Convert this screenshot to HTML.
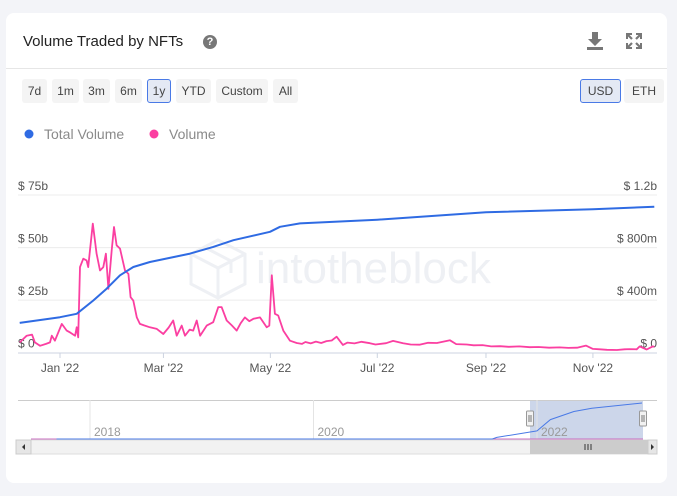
<!DOCTYPE html>
<html><head><meta charset="utf-8">
<style>
html,body{margin:0;padding:0;background:#f3f4f8;width:677px;height:496px;overflow:hidden;font-family:"Liberation Sans",sans-serif;}
#card{position:absolute;left:6px;top:13px;width:661px;height:470px;background:#fff;border-radius:8px;}
.btn{position:absolute;top:79px;height:24px;line-height:24px;background:#f4f4f4;border-radius:3px;font-size:12px;color:#444;text-align:center;box-sizing:border-box;}
.sel{background:#e4e9f4;border:1.5px solid #4a7ae6;line-height:22px;}
</style></head><body>
<div id="card"></div>
<div style="position:absolute;left:23px;top:33px;font-size:15px;color:#222;">Volume Traded by NFTs</div>
<div style="position:absolute;left:203px;top:35px;width:14px;height:14px;border-radius:50%;background:#777;color:#fff;font-size:11px;font-weight:bold;text-align:center;line-height:14px;">?</div>
<div style="position:absolute;left:587px;top:32px;width:16px;height:18px;">
<svg width="16" height="18"><path d="M5 0h6v7h4l-7 7-7-7h4z" fill="#777"/><rect x="0" y="15" width="16" height="3" fill="#777"/></svg></div>
<div style="position:absolute;left:626px;top:33px;width:16px;height:16px;">
<svg width="16" height="16" stroke="#777" stroke-width="2.2" fill="none"><path d="M1 1l5 5M15 1l-5 5M1 15l5-5M15 15l-5-5"/><path d="M1 6V1h5M10 1h5v5M1 10v5h5M10 15h5v-5" stroke-width="2"/></svg></div>
<div style="position:absolute;left:6px;top:68px;width:661px;height:1px;background:#e6e6e6;"></div>
<div class="btn" style="left:22px;width:25px;">7d</div>
<div class="btn" style="left:52px;width:27px;">1m</div>
<div class="btn" style="left:83px;width:27px;">3m</div>
<div class="btn" style="left:115px;width:27px;">6m</div>
<div class="btn sel" style="left:147px;width:24px;">1y</div>
<div class="btn" style="left:176px;width:35px;">YTD</div>
<div class="btn" style="left:216px;width:52px;">Custom</div>
<div class="btn" style="left:273px;width:25px;">All</div>
<div class="btn sel" style="left:580px;width:41px;">USD</div>
<div class="btn" style="left:624px;width:40px;">ETH</div>
<svg id="chart" width="677" height="496" style="position:absolute;left:0;top:0;"></svg>
<script>
const volDays=[-23,-19,-16,-14.3,-11.4,-8,-5.7,-4.7,-2.9,1,3.8,6,8.6,9.5,10.4,11.4,13.3,15.2,16.1,18.7,20.9,22.8,24.7,26.2,27.6,29.5,30.8,32.3,34.2,37.1,39,40.3,41.8,43.8,45.6,48,51.3,55.2,58.9,62,64.6,66.6,69.4,71.3,74,76,78,79.9,83.7,87.4,90.3,92.2,95.1,98,100.8,103,105.5,108,110.3,114.1,117.9,119.4,120.8,122.6,124.5,127.4,131.2,135,138,140,143,146,149,152,155,157.8,161.4,164,168,172,176.8,180,186,190,195.7,200,205,210,215,222.5,226,232,236,241,246,251,256,262,268,273,279,285,290,295,300,304,308,312,317.7,322,325,329,330.7,334.7,338.1,339];
const volValues=[4.9,8.1,8.6,4.9,3.3,4.2,4.9,8.1,5.7,13.7,10.5,9.5,8.1,12.1,7.3,40.7,44.7,43.9,40.7,61.4,47.1,39.1,40.7,47.1,30.4,48.7,59.8,51.1,49.5,39.1,37.5,26.4,24.8,16.8,13.7,13,12.1,11.3,8.9,12,15.3,8.1,12.9,8.1,11,10.5,15.3,8.1,12.9,14.5,21.7,21.7,15.3,13,10.5,14,16.8,15,16.1,16.8,12.1,12.9,36.8,18.5,17.7,10.5,5.7,4.6,4.2,5.1,4.4,5.3,4.6,5.5,5.8,7.6,3.7,4.8,4.4,5.2,4.5,3.9,4.5,5.6,4.5,3.9,3.8,4.7,4.6,5.9,4.1,3.9,3.5,3.6,3.0,3.1,2.8,3.0,2.6,2.7,2.4,2.5,2.3,2.4,3.4,1.8,1.6,1.4,1.3,1.6,1.7,1.6,3,1.5,3,2.8];
const totDays=[-23,0,9.5,19,26.6,34.2,41.8,51.3,74.2,87.4,98.9,119.8,125.5,136.9,159.7,181,243,304,339];
const totValues=[0.227,0.27,0.296,0.397,0.487,0.589,0.652,0.69,0.754,0.805,0.856,0.92,0.958,0.984,0.998,1.012,1.068,1.091,1.111];
const xTickLabels=["Jan '22","Mar '22","May '22","Jul '22","Sep '22","Nov '22"];
const xTickDays=[0,59,120,181,243,304];
const leftTicks=[0,25,50,75];
const leftTickLabels=["$ 0","$ 25b","$ 50b","$ 75b"];
const rightTicks=[0,0.4,0.8,1.2];
const rightTickLabels=["$ 0","$ 400m","$ 800m","$ 1.2b"];
const navYears=[2017.7,2021.6,2021.64,2022.0,2022.12,2022.33,2022.49,2022.94];
const navTotals=[0,0,0.05,0.25,0.6,0.85,0.95,1.111];
const navTickYears=[2018,2020,2022];

const NS="http://www.w3.org/2000/svg";
const svg=document.getElementById('chart');
function el(t,a,p){const e=document.createElementNS(NS,t);for(const k in a)e.setAttribute(k,a[k]);(p||svg).appendChild(e);return e;}
const X=d=>60+d*1.753;
const YL=v=>352.7-v/75*157.7;
const YR=v=>352.7-v/1.2*157.7;
const NX=y=>90+(y-2018)*111.75;
const NY=v=>439-v/1.111*36;

let g=el('g',{});
el('circle',{cx:29,cy:134,r:4.5,fill:'#2f6be3'},g);
let t=el('text',{x:44,y:139,'font-size':14,fill:'#8a8a8a'},g);t.textContent='Total Volume';
g=el('g',{});
el('circle',{cx:154,cy:134,r:4.5,fill:'#fb3fa1'},g);
t=el('text',{x:169,y:139,'font-size':14,fill:'#8a8a8a'},g);t.textContent='Volume';

g=el('g',{});
el('path',{d:'M218 240l27 14v30l-27 14-27-14v-30z M191 254l27 14 27-14 M218 268v30 M204 247l27 14v12',fill:'none',stroke:'#eef0f4','stroke-width':3},g);
t=el('text',{x:256,y:283,'font-size':44,fill:'#eef0f4'},g);t.textContent='intotheblock';

leftTicks.forEach((v,i)=>{
  if(i>0){const l=el('line',{x1:18,x2:657,y1:YL(v),y2:YL(v),stroke:'#ececec'});}
  const a=el('text',{x:18,y:YL(v)-5,'font-size':12,fill:'#555'});a.textContent=leftTickLabels[i];
  
});
rightTicks.forEach((v,i)=>{
  const a=el('text',{x:657,y:YR(v)-5,'font-size':12,fill:'#555','text-anchor':'end'});a.textContent=rightTickLabels[i];
  
});
el('line',{x1:18,x2:657,y1:353,y2:353,stroke:'#ccd3e0'});
xTickDays.forEach((d,i)=>{
  el('line',{x1:X(d),x2:X(d),y1:353,y2:358,stroke:'#ccd3e0'});
  const a=el('text',{x:X(d),y:372,'font-size':12,fill:'#555','text-anchor':'middle'});a.textContent=xTickLabels[i];
  
});

let p=el('polyline',{points:volDays.map((d,i)=>X(d).toFixed(1)+','+YL(volValues[i]).toFixed(1)).join(' '),fill:'none',stroke:'#fb3fa1','stroke-width':1.8,'stroke-linejoin':'round'});

p=el('polyline',{points:totDays.map((d,i)=>X(d).toFixed(1)+','+YR(totValues[i]).toFixed(1)).join(' '),fill:'none',stroke:'#2f6be3','stroke-width':2,'stroke-linejoin':'round'});


g=el('g',{});
el('rect',{x:530,y:400,width:113,height:40,fill:'#ccd6ea'},g);
el('line',{x1:18,x2:657,y1:400.5,y2:400.5,stroke:'#ccc'},g);
navTickYears.forEach(y=>{
  el('line',{x1:NX(y),x2:NX(y),y1:400,y2:440,stroke:'#e4e4e4'},g);
  const a=el('text',{x:NX(y)+4,y:436,'font-size':12,fill:'#999'},g);a.textContent=String(y);
});
el('line',{x1:31,x2:643,y1:439,y2:439,stroke:'#c96fc0','stroke-width':1},g);
el('polyline',{points:navYears.map((y,i)=>Math.max(31,NX(y)).toFixed(1)+','+NY(navTotals[i]).toFixed(1)).join(' '),fill:'none',stroke:'#4a7ae6','stroke-width':1},g);
[530,643].forEach(x=>{
  const h=el('rect',{x:x-3.5,y:411,width:7,height:15,fill:'#f2f2f2',stroke:'#999',rx:1},g);
  
  el('line',{x1:x-1,x2:x-1,y1:415,y2:422,stroke:'#777'},g);el('line',{x1:x+1,x2:x+1,y1:415,y2:422,stroke:'#777'},g);
});
g=el('g',{});
el('rect',{x:16,y:440,width:641,height:14,fill:'#f2f2f2',stroke:'#ddd'},g);
el('rect',{x:16,y:440,width:15,height:14,fill:'#e6e6e6',stroke:'#ccc'},g);
el('path',{d:'M25 444l-3 3 3 3z',fill:'#333'},g);
el('rect',{x:530,y:440,width:118,height:14,fill:'#cccccc'},g);
el('path',{d:'M585 444v6M588 444v6M591 444v6',stroke:'#333'},g);
el('rect',{x:648,y:440,width:9,height:14,fill:'#e6e6e6',stroke:'#ccc'},g);
el('path',{d:'M651 444l3 3-3 3z',fill:'#333'},g);
</script>
</body></html>
